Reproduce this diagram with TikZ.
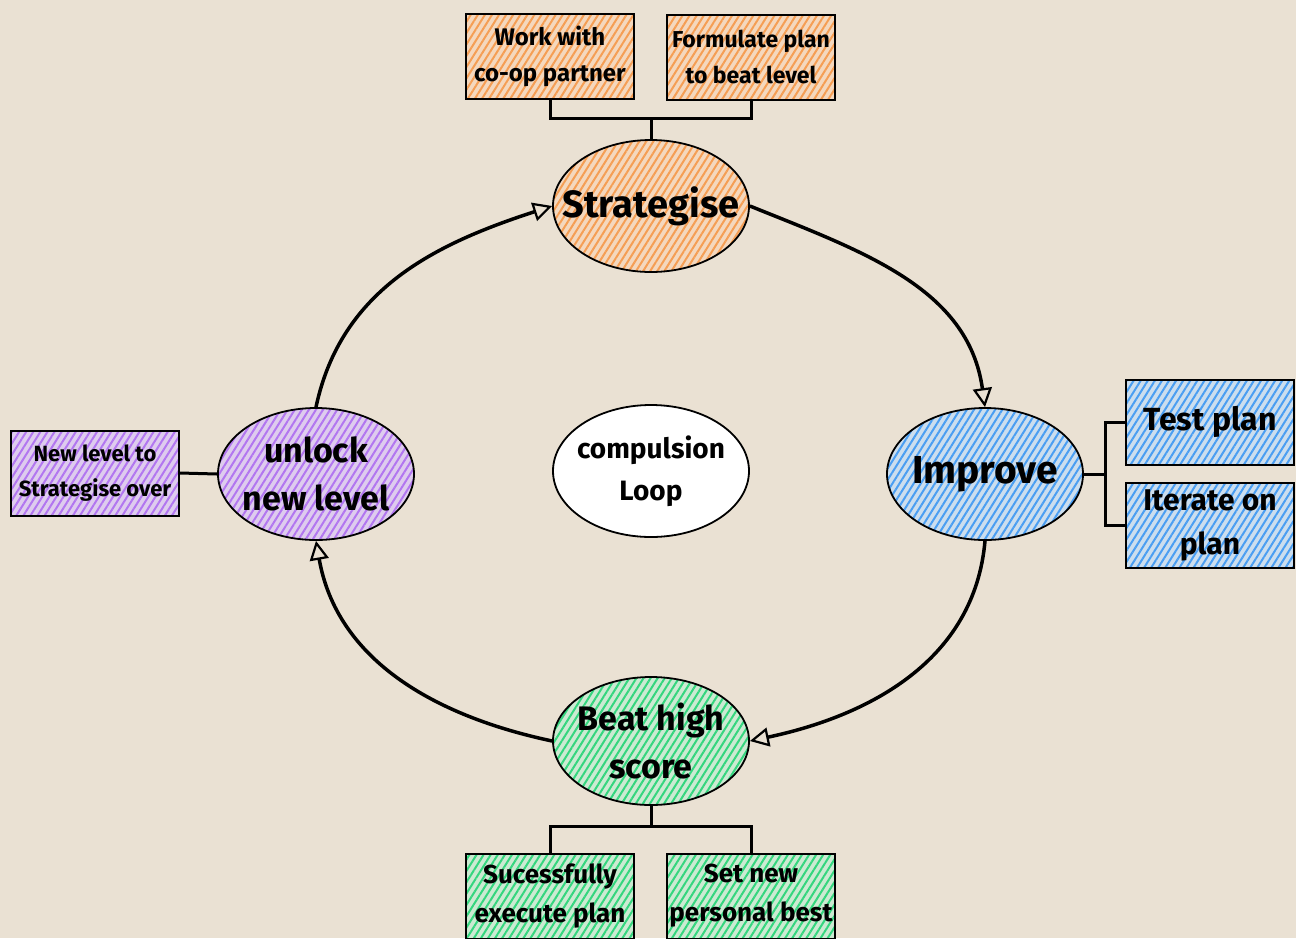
\documentclass[tikz,border=0pt]{standalone}
\usepackage{fontspec}
\setmainfont{Fira Sans}
\usetikzlibrary{shapes.geometric,arrows.meta,patterns.meta}
\definecolor{paper}{RGB}{234,225,211}
\definecolor{stratdk}{RGB}{245,158,84}
\definecolor{stratlt}{RGB}{244,216,190}
\definecolor{impdk}{RGB}{74,158,242}
\definecolor{implt}{RGB}{204,222,238}
\definecolor{unldk}{RGB}{178,118,240}
\definecolor{unllt}{RGB}{222,204,238}
\definecolor{beatdk}{RGB}{52,214,126}
\definecolor{beatlt}{RGB}{204,234,210}
\tikzset{
  stage/.style={ellipse,draw,line width=1.8pt,minimum width=196pt,minimum height=132pt,
    inner xsep=-22pt,inner ysep=-6pt,align=center,font=\bfseries\fontsize{34}{48}\selectfont},
  task/.style={rectangle,draw,line width=2pt,minimum width=168pt,minimum height=85pt,
    inner sep=1pt,align=center,font=\bfseries\fontsize{24}{36}\selectfont},
  hatch/.style 2 args={preaction={fill=#2},preaction={pattern={Lines[angle=58,distance=6pt,line width=2pt]},pattern color=#1}},
  cyc/.style={line width=3.5pt,-{Triangle[open,length=19pt,width=19pt,line width=2.2pt]}},
  link/.style={line width=3pt}
}
\begin{document}
\begin{tikzpicture}[x=1pt,y=1pt]
  \fill[paper] (0,0) rectangle (1296,-938);
  \useasboundingbox (0,0) rectangle (1296,-938);
  \node[stage,hatch={stratdk}{stratlt},font=\bfseries\fontsize{38}{48}\selectfont] (strat) at (651,-206) {Strategise};
  \node[stage,hatch={impdk}{implt},font=\bfseries\fontsize{39}{48}\selectfont] (improve) at (985,-474) {Improve};
  \node[stage,hatch={beatdk}{beatlt},minimum height=128pt] (beat) at (651,-741) {Beat high\\score};
  \node[stage,hatch={unldk}{unllt}] (unlock) at (316,-474) {unlock\\new level};
  \node[stage,fill=white,minimum height=132pt,font=\bfseries\fontsize{28}{42}\selectfont] (loop) at (651,-471) {compulsion\\Loop};
  \node[task,hatch={stratdk}{stratlt}] (coop) at (550,-56) {Work with\\co-op partner};
  \node[task,hatch={stratdk}{stratlt},font=\bfseries\fontsize{23}{36}\selectfont] (formulate) at (751,-57) {Formulate plan\\to beat level};
  \node[task,hatch={impdk}{implt},font=\bfseries\fontsize{32}{40}\selectfont] (testplan) at (1210,-422) {Test plan};
  \node[task,hatch={impdk}{implt},font=\bfseries\fontsize{30}{44}\selectfont] (iterate) at (1210,-525) {Iterate on\\plan};
  \node[task,hatch={unldk}{unllt},font=\bfseries\fontsize{22}{35}\selectfont] (newlevel) at (95,-473) {New level to\\Strategise over};
  \node[task,hatch={beatdk}{beatlt},font=\bfseries\fontsize{26}{39}\selectfont] (execute) at (550,-896) {Sucessfully\\execute plan};
  \node[task,hatch={beatdk}{beatlt},font=\bfseries\fontsize{26}{39}\selectfont] (pbest) at (751,-896) {Set new\\personal best};
  \coordinate (topj) at (651,-118);
  \coordinate (rightj) at (1105,-474);
  \coordinate (botj) at (651,-826);
  \draw[link] (coop.south) |- (topj) -| (formulate.south);
  \draw[link] (topj) -- (strat.north);
  \draw[link] (improve.east) -- (rightj);
  \draw[link] (testplan.west) -| (rightj) |- (iterate.west);
  \draw[link] (beat.south) -- (botj);
  \draw[link] (execute.north) |- (botj) -| (pbest.north);
  \draw[link] (newlevel.east) -- (unlock.west);
  \draw[cyc] (unlock.north) to[out=78,in=198] (strat.west);
  \draw[cyc] (strat.east) to[out=-22,in=98] (improve.north);
  \draw[cyc] (improve.south) to[out=-95,in=12] (beat.east);
  \draw[cyc] (beat.west) to[out=168,in=-80] (unlock.south);
\end{tikzpicture}
\end{document}
